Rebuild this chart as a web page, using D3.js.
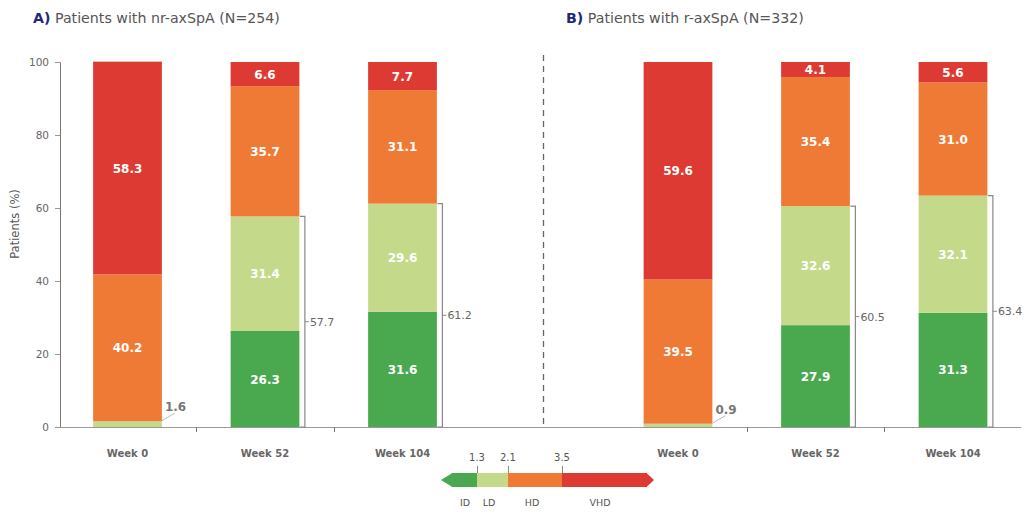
<!DOCTYPE html>
<html>
<head>
<meta charset="utf-8">
<script src="https://cdn.jsdelivr.net/npm/d3@7"></script>
<style>
  html, body { margin: 0; padding: 0; background: #fff; }
  svg { display: block; font-family: "DejaVu Sans", Verdana, sans-serif; }
</style>
</head>
<body>
<svg id="chart" width="1026" height="514"></svg>
<script>
// Disease activity categories (ASDAS), bottom to top of each stack
const categories = ["ID", "LD", "HD", "VHD"];
const weeks = ["Week 0", "Week 52", "Week 104"];

// Panel A: nr-axSpA (N=254), % of patients per category
const nrID  = [0,    26.3, 31.6];
const nrLD  = [1.6,  31.4, 29.6];
const nrHD  = [40.2, 35.7, 31.1];
const nrVHD = [58.3, 6.6,  7.7];

// Panel B: r-axSpA (N=332)
const rID  = [0,    27.9, 31.3];
const rLD  = [0.9,  32.6, 32.1];
const rHD  = [39.5, 35.4, 31.0];
const rVHD = [59.6, 4.1,  5.6];

const yTicks = [0, 20, 40, 60, 80, 100];
const legendCuts = [1.3, 2.1, 3.5];

const colors = { ID: "#4aa94f", LD: "#c4da8a", HD: "#ef7a35", VHD: "#dc3a32" };

const panels = [
  { letter: "A)", title: " Patients with nr-axSpA (N=254)", series: [nrID, nrLD, nrHD, nrVHD], range: [58.75, 471.25], titleX: 33 },
  { letter: "B)", title: " Patients with r-axSpA (N=332)",  series: [rID, rLD, rHD, rVHD],     range: [609.25, 1021.75], titleX: 566 }
];

const svg = d3.select("#chart");
const y = d3.scaleLinear().domain([0, 100]).range([427, 62]);

// Titles
panels.forEach(p => {
  const t = svg.append("text").attr("x", p.titleX).attr("y", 23).attr("font-size", 14.2);
  t.append("tspan").text(p.letter).attr("fill", "#1d2a78").attr("font-weight", "bold");
  t.append("tspan").text(p.title).attr("fill", "#555");
});

// Y axis
const yAxis = svg.append("g").attr("transform", "translate(60,0)")
  .call(d3.axisLeft(y).tickValues(yTicks).tickSize(5).tickPadding(6));
yAxis.select(".domain").attr("stroke", "#777");
yAxis.selectAll(".tick line").attr("stroke", "#999");
yAxis.selectAll(".tick text").attr("fill", "#666").attr("font-size", 10.5)
  .attr("font-family", "DejaVu Sans, Verdana, sans-serif");

svg.append("text")
  .attr("transform", "translate(19,224) rotate(-90)")
  .attr("text-anchor", "middle").attr("font-size", 11.5).attr("fill", "#555")
  .text("Patients (%)");

// Baseline across both panels
svg.append("line").attr("x1", 60).attr("x2", 1021).attr("y1", 427.5).attr("y2", 427.5)
  .attr("stroke", "#999").attr("stroke-width", 1);

// Dashed panel separator
svg.append("line").attr("x1", 543.5).attr("x2", 543.5).attr("y1", 55).attr("y2", 427)
  .attr("stroke", "#666").attr("stroke-dasharray", "6,5").attr("stroke-width", 1.3);

panels.forEach(p => {
  const x = d3.scaleBand().domain(weeks).range(p.range).paddingInner(0.5).paddingOuter(0.25);
  const rows = weeks.map((w, i) => {
    const r = { week: w };
    categories.forEach((c, k) => r[c] = p.series[k][i]);
    return r;
  });
  const stacked = d3.stack().keys(categories)(rows);
  const g = svg.append("g");

  // Band separators below the baseline
  const step = x.step();
  weeks.slice(0, -1).forEach(w => {
    const bx = Math.round(x(w) + x.bandwidth() + (step - x.bandwidth()) / 2) + 0.5;
    g.append("line").attr("x1", bx).attr("x2", bx).attr("y1", 427).attr("y2", 432)
      .attr("stroke", "#777");
  });

  // Stacked bars
  stacked.forEach(layer => {
    g.selectAll(null).data(layer).join("rect")
      .attr("x", d => x(d.data.week))
      .attr("width", x.bandwidth())
      .attr("y", d => y(d[1]))
      .attr("height", d => Math.max(0, y(d[0]) - y(d[1])))
      .attr("fill", colors[layer.key]);
  });

  // Segment value labels
  stacked.forEach(layer => {
    layer.forEach(d => {
      const v = d[1] - d[0];
      const cx = x(d.data.week) + x.bandwidth() / 2;
      if (v >= 3) {
        g.append("text").attr("x", cx).attr("y", y((d[0] + d[1]) / 2) + 4.5)
          .attr("text-anchor", "middle").attr("font-size", 12).attr("font-weight", "bold")
          .attr("fill", "#fff").text(v.toFixed(1));
      } else if (v > 0) {
        // Thin segment: value outside with a leader line
        const rx = x(d.data.week) + x.bandwidth();
        g.append("line").attr("x1", rx).attr("y1", y(d[1]) - 0.5)
          .attr("x2", rx + 13).attr("y2", y(d[1]) - 8)
          .attr("stroke", "#bbb").attr("stroke-width", 1);
        g.append("text").attr("x", rx + 3).attr("y", y(d[1]) - 10)
          .attr("font-size", 12).attr("font-weight", "bold").attr("fill", "#777")
          .text(v.toFixed(1));
      }
    });
  });

  // Brackets for ID + LD (ASDAS < 2.1)
  rows.forEach(r => {
    if (r.ID <= 0) return;
    const total = +(r.ID + r.LD).toFixed(1);
    const bx = x(r.week) + x.bandwidth() + 5.5;
    const yt = y(total), yb = y(0);
    g.append("path")
      .attr("d", `M${bx - 5},${yt} H${bx} V${yb} H${bx - 5}`)
      .attr("fill", "none").attr("stroke", "#888").attr("stroke-width", 1.2);
    const ym = y(total / 2);
    g.append("line").attr("x1", bx).attr("x2", bx + 4).attr("y1", ym).attr("y2", ym)
      .attr("stroke", "#888");
    g.append("text").attr("x", bx + 5).attr("y", ym + 4)
      .attr("font-size", 11).attr("fill", "#666").text(total.toFixed(1));
  });

  // Week labels
  weeks.forEach(w => {
    g.append("text").attr("x", x(w) + x.bandwidth() / 2).attr("y", 457)
      .attr("text-anchor", "middle").attr("font-size", 10).attr("font-weight", "bold")
      .attr("fill", "#666").text(w);
  });
});

// ASDAS legend arrow
const lx = d3.scaleLinear().domain([1.3, 3.5]).range([477, 562]);
const legendStops = [0.65, 1.3, 2.1, 3.5, 5.7];
const lg = svg.append("g");
const barTop = 473, barBot = 487, barMid = (barTop + barBot) / 2;
categories.forEach((c, i) => {
  const x0 = lx(legendStops[i]), x1 = lx(legendStops[i + 1]);
  lg.append("rect").attr("x", x0).attr("y", barTop).attr("width", x1 - x0).attr("height", barBot - barTop)
    .attr("fill", colors[c]);
});
lg.append("path")
  .attr("d", `M${lx(legendStops[0]) + 0.5},${barTop} L${lx(legendStops[0]) - 11},${barMid} L${lx(legendStops[0]) + 0.5},${barBot} Z`)
  .attr("fill", colors.ID);
lg.append("path")
  .attr("d", `M${lx(legendStops[4]) - 0.5},${barTop} L${lx(legendStops[4]) + 7},${barMid} L${lx(legendStops[4]) - 0.5},${barBot} Z`)
  .attr("fill", colors.VHD);
legendCuts.forEach(v => {
  lg.append("line").attr("x1", lx(v) + 0.5).attr("x2", lx(v) + 0.5).attr("y1", 466).attr("y2", barTop)
    .attr("stroke", "#888");
  lg.append("text").attr("x", lx(v)).attr("y", 461).attr("text-anchor", "middle")
    .attr("font-size", 10).attr("fill", "#555").text(v.toFixed(1));
});
const legendLabelX = [465, 489, 532, 600];
categories.forEach((c, i) => {
  lg.append("text").attr("x", legendLabelX[i]).attr("y", 506).attr("text-anchor", "middle")
    .attr("font-size", 9.5).attr("fill", "#555").text(c);
});
</script>
</body>
</html>
